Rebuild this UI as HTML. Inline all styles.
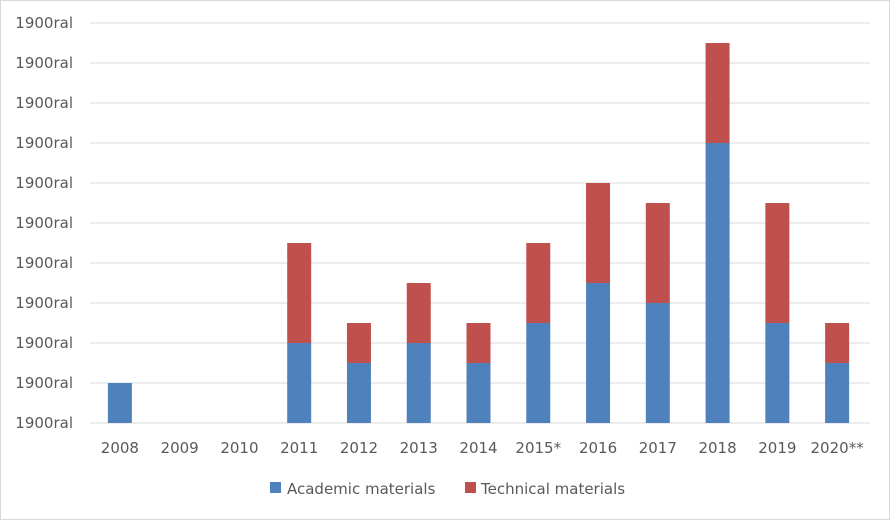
<!DOCTYPE html>
<html><head><meta charset="utf-8"><style>
body{margin:0;background:#fff;}
svg{display:block;font-family:"DejaVu Sans","Liberation Sans",sans-serif;}
</style></head><body>
<svg id="chart" width="890" height="520">
<rect x="0.5" y="0.5" width="889" height="519" fill="#fff" stroke="#d9d9d9"/>
<g id="grid"></g><g id="bars"></g><g id="xlabels"></g><g id="ylabels"></g>
<g>
<rect x="270" y="482" width="11" height="11" fill="#4F81BD"/>
<text x="287" y="494" font-size="15" fill="#595959">Academic materials</text>
<rect x="465" y="482" width="11" height="11" fill="#C0504D"/>
<text x="481" y="494" font-size="15" fill="#595959">Technical materials</text>
</g>
</svg>
<script>
const categories=["2008","2009","2010","2011","2012","2013","2014","2015*","2016","2017","2018","2019","2020**"];
const academic=[1,0,0,2,1.5,2,1.5,2.5,3.5,3,7,2.5,1.5];
const technical=[0,0,0,2.5,1,1.5,1,2,2.5,2.5,2.5,3,1];
const yTicks=[0,1,2,3,4,5,6,7,8,9,10];
const yTickLabels=["1900ral","1900ral","1900ral","1900ral","1900ral","1900ral","1900ral","1900ral","1900ral","1900ral","1900ral"];
const NS="http://www.w3.org/2000/svg";
const x0=90,x1=867,y0=423,y1=23,yMax=10;
const band=(x1-x0)/categories.length,bw=24;
const y=v=>y0-(v/yMax)*(y0-y1);
const xc=i=>x0+band*(i+0.5);
function mk(tag,attrs,parent){const e=document.createElementNS(NS,tag);for(const k in attrs)e.setAttribute(k,attrs[k]);document.getElementById(parent).appendChild(e);return e;}
yTicks.forEach((t,i)=>{
 const l=mk("line",{x1:x0,x2:x1+3,y1:y(t),y2:y(t),stroke:"#d9d9d9","stroke-width":1},"grid");
 
 
 const tx=mk("text",{x:73,y:y(t)+5,"text-anchor":"end","font-size":15,fill:"#595959"},"ylabels");
 tx.textContent=yTickLabels[i];
 
 
});
categories.forEach((c,i)=>{
 const a=academic[i],t=technical[i];
 if(a>0){const r=mk("rect",{x:xc(i)-bw/2,y:y(a),width:bw,height:y(0)-y(a),fill:"#4F81BD"},"bars");
  
  }
 if(t>0){const r=mk("rect",{x:xc(i)-bw/2,y:y(a+t),width:bw,height:y(a)-y(a+t),fill:"#C0504D"},"bars");
  
  }
 const tx=mk("text",{x:xc(i),y:453,"text-anchor":"middle","font-size":15,fill:"#595959"},"xlabels");
 tx.textContent=c;
 
 
});
</script>
</body></html>
